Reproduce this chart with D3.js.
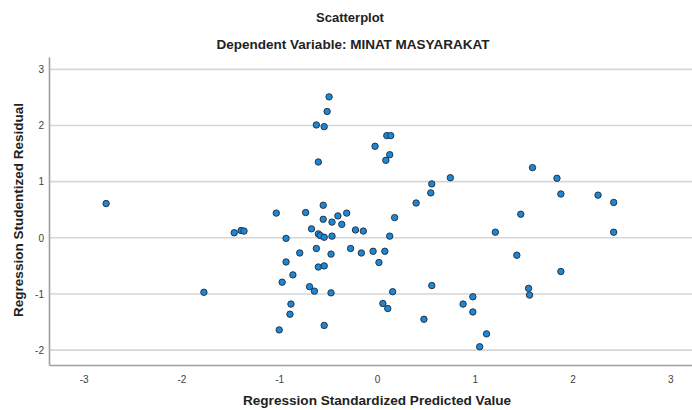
<!DOCTYPE html>
<html>
<head>
<meta charset="utf-8">
<script src="https://cdn.jsdelivr.net/npm/d3@7"></script>
<style>
  body { margin: 0; background: #fff; }
  svg { display: block; font-family: "Liberation Sans", Arial, sans-serif; }
</style>
</head>
<body>
<svg id="chart"></svg>
<script>
// Predicted values (x) and studentized residuals (y)
var predicted = [
  -2.77, -1.77, -1.46, -1.39, -1.36, -1.03, -1.00, -0.97, -0.93, -0.93,
  -0.89, -0.88, -0.86, -0.79, -0.73, -0.69, -0.67, -0.64, -0.62, -0.62,
  -0.60, -0.60, -0.60, -0.58, -0.55, -0.55, -0.54, -0.54, -0.54, -0.54,
  -0.51, -0.49, -0.47, -0.47, -0.46, -0.46, -0.40, -0.36, -0.31, -0.27,
  -0.22, -0.16, -0.14, -0.04, -0.02, 0.02, 0.06, 0.08, 0.09, 0.10,
  0.11, 0.13, 0.13, 0.14, 0.16, 0.18, 0.40, 0.48, 0.55, 0.56,
  0.56, 0.75, 0.88, 0.98, 0.98, 1.05, 1.12, 1.21, 1.43, 1.47,
  1.55, 1.56, 1.59, 1.84, 1.88, 1.88, 2.26, 2.42, 2.42
];
var residuals = [
  0.61, -0.97, 0.09, 0.13, 0.12, 0.44, -1.64, -0.79, -0.01, -0.43,
  -1.36, -1.18, -0.66, -0.27, 0.45, -0.87, 0.16, -0.95, 2.01, -0.19,
  0.07, -0.52, 1.35, 0.04, 0.58, 0.33, 1.98, -1.56, 0.01, -0.50,
  2.25, 2.51, -0.29, -0.98, 0.28, 0.03, 0.39, 0.24, 0.44, -0.19,
  0.14, -0.27, 0.12, -0.24, 1.63, -0.44, -1.17, -0.24, 1.38, 1.82,
  -1.26, 0.03, 1.48, 1.82, -0.96, 0.36, 0.62, -1.45, 0.80, 0.96,
  -0.85, 1.07, -1.18, -1.05, -1.32, -1.94, -1.71, 0.10, -0.31, 0.42,
  -0.90, -1.02, 1.25, 1.06, 0.78, -0.60, 0.76, 0.63, 0.10
];
var xTicks = [-3, -2, -1, 0, 1, 2, 3];
var yTicks = [-2, -1, 0, 1, 2, 3];

var width = 692;
var height = 410;
var svg = d3.select('#chart')
    .attr('width', width)
    .attr('height', height);

// plot box edges
var plotLeft = 49, plotRight = 692, plotTop = 57, plotBottom = 365;

var x = d3.scaleLinear()
    .domain([-3.354, 3.221])
    .range([plotLeft, plotRight]);
var y = d3.scaleLinear()
    .domain([-2.265, 3.22])
    .range([plotBottom, plotTop]);

// gridlines
svg.append('g')
    .selectAll('line')
    .data(yTicks)
    .enter().append('line')
    .attr('x1', plotLeft)
    .attr('x2', plotRight)
    .attr('y1', function (d) { return y(d); })
    .attr('y2', function (d) { return y(d); })
    .style('stroke', '#d6d6d6')
    .style('stroke-width', 1.6);

// axes (plain hyphen for negatives, like the original)
var fmt = function (d) { return String(d); };
var xAxis = svg.append('g')
    .attr('transform', 'translate(0,' + plotBottom + ')')
    .call(d3.axisBottom(x).tickValues(xTicks).tickSize(0).tickPadding(11).tickFormat(fmt));
var yAxis = svg.append('g')
    .attr('transform', 'translate(' + plotLeft + ',0)')
    .call(d3.axisLeft(y).tickValues(yTicks).tickSize(0).tickPadding(5).tickFormat(fmt));

[xAxis, yAxis].forEach(function (a) {
  a.select('.domain').style('stroke', '#a0a0a0').style('stroke-width', 1.6);
  a.selectAll('text')
      .style('font-size', '10px')
      .style('fill', '#404040')
      .style('font-family', '"Liberation Sans", Arial, sans-serif');
});

// points
svg.append('g')
    .selectAll('circle')
    .data(predicted)
    .enter().append('circle')
    .attr('cx', function (d) { return x(d); })
    .attr('cy', function (d, i) { return y(residuals[i]); })
    .attr('r', 3.2)
    .style('fill', '#1a87d9')
    .style('stroke', '#2a3540')
    .style('stroke-width', 1);

// titles
svg.append('text')
    .attr('x', 350)
    .attr('y', 22)
    .attr('text-anchor', 'middle')
    .style('font-weight', 'bold')
    .style('font-size', '13px')
    .style('fill', '#222')
    .text('Scatterplot');

svg.append('text')
    .attr('x', 353)
    .attr('y', 49)
    .attr('text-anchor', 'middle')
    .style('font-weight', 'bold')
    .style('font-size', '13.5px')
    .style('fill', '#222')
    .text('Dependent Variable: MINAT MASYARAKAT');

svg.append('text')
    .attr('x', 377)
    .attr('y', 405)
    .attr('text-anchor', 'middle')
    .style('font-weight', 'bold')
    .style('font-size', '13.6px')
    .style('fill', '#222')
    .text('Regression Standardized Predicted Value');

svg.append('text')
    .attr('transform', 'translate(23,210) rotate(-90)')
    .attr('text-anchor', 'middle')
    .style('font-weight', 'bold')
    .style('font-size', '13.5px')
    .style('fill', '#222')
    .text('Regression Studentized Residual');
</script>
</body>
</html>
